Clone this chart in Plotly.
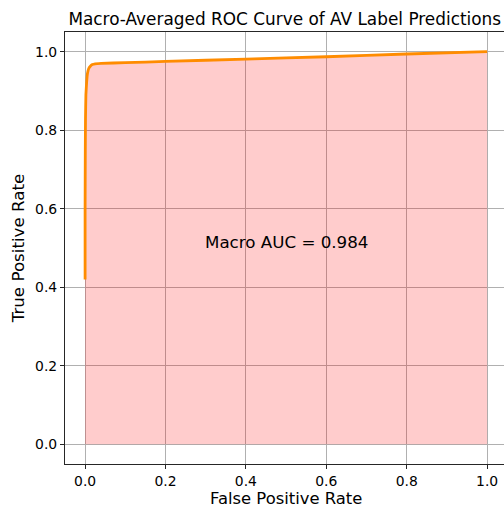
import plotly.graph_objects as go

fpr = [0.0, 0.0, 0.0005, 0.001, 0.002, 0.004, 0.006, 0.009, 0.013, 0.018, 0.025, 0.04, 0.1, 0.2, 0.4, 0.6, 0.8, 1.0]
tpr = [0.42, 0.6, 0.75, 0.83, 0.89, 0.925, 0.945, 0.957, 0.963, 0.967, 0.969, 0.970, 0.972, 0.975, 0.981, 0.987, 0.994, 1.0]
auc_text = "Macro AUC = 0.984"
title = "Macro-Averaged ROC Curve of AV Label Predictions"
x_label = "False Positive Rate"
y_label = "True Positive Rate"
ticks = [0.0, 0.2, 0.4, 0.6, 0.8, 1.0]

font = "DejaVu Sans"
fig = go.Figure()
fig.add_trace(go.Scatter(x=fpr, y=tpr, mode="lines", fill="tozeroy",
                         fillcolor="rgba(255,0,0,0.2)",
                         line=dict(color="#ff8c00", width=2.8, shape="spline", smoothing=0.3),
                         showlegend=False))
fig.add_annotation(x=0.5, y=0.515, text=auc_text, showarrow=False,
                   font=dict(family=font, size=16.7, color="black"))
# x-axis label placed just below the tick labels
fig.add_annotation(x=0.5, xref="x", y=0, yref="paper", yanchor="top", yshift=-24,
                   borderpad=0, text=x_label, showarrow=False,
                   font=dict(family=font, size=16.4, color="black"))

axis_common = dict(showline=True, linecolor="#262626", linewidth=1.1, mirror=True,
                   ticks="outside", ticklen=4, tickwidth=1.1, tickcolor="#262626",
                   showgrid=True, gridcolor="#b0b0b0", gridwidth=0.8, zeroline=False,
                   tickvals=ticks, tickformat=".1f", automargin=False,
                   tickfont=dict(family=font, size=13.9, color="black"))
fig.update_xaxes(range=[-0.05, 1.042], **axis_common)
fig.update_yaxes(range=[-0.05, 1.05], title=dict(text=y_label, standoff=6,
                 font=dict(family=font, size=16.7, color="black")), **axis_common)
fig.update_layout(width=504, height=507, margin=dict(l=65, r=0, t=32, b=43),
                  plot_bgcolor="white", paper_bgcolor="white",
                  title=dict(text=title, x=0.565, xanchor="center", y=0.963, yanchor="middle",
                             font=dict(family=font, size=16.9, color="black")))
fig.write_html("out.html")
